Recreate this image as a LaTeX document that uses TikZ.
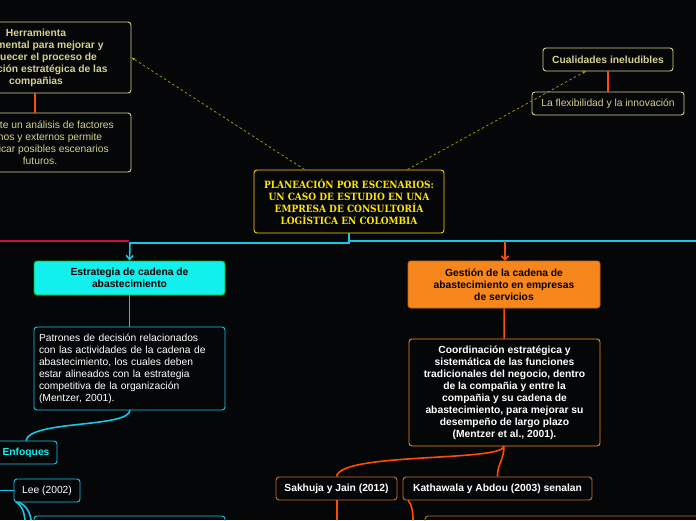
\documentclass[tikz,border=0pt]{standalone}
\usepackage{fontspec}
\setmainfont{Liberation Sans}
\newfontfamily\slab{DejaVu Serif Condensed}
\usetikzlibrary{arrows.meta}
\definecolor{bg}{HTML}{050608}
\definecolor{khaki}{HTML}{D6D18E}
\definecolor{cy}{HTML}{14C8E6}
\definecolor{cyf}{HTML}{12F0EE}
\definecolor{org}{HTML}{F7861C}
\definecolor{redo}{HTML}{FF4D00}
\definecolor{brn}{HTML}{C8741E}
\definecolor{ttl}{HTML}{FFE600}
\begin{document}
\begin{tikzpicture}[x=1pt,y=-1pt,
 box/.style={draw,rounded corners=3pt,line width=0.9pt,inner sep=2pt,font=\fontsize{10.3}{12}\selectfont,align=center},
 kbox/.style={box,draw=khaki,text=khaki},
 cbox/.style={box,draw=cy,text=white},
 obox/.style={box,draw=brn,text=white,font=\fontsize{10.3}{12}\selectfont\bfseries},
 dsh/.style={draw=ttl!70!black,dashed,dash pattern=on 2.5pt off 2.5pt,line width=0.7pt,-{Stealth[length=4pt]}},
 cl/.style={draw=cy,line width=1.6pt},
 ol/.style={draw=redo,line width=1.6pt}]
\fill[bg] (0,0) rectangle (696,520);
\useasboundingbox (0,0) rectangle (696,520);
% left top
\node[kbox,minimum width=190pt,minimum height=71pt,font=\fontsize{10.3}{12}\selectfont\bfseries] (herr) at (36,57.5) {Herramienta\\fundamental para mejorar y\\enriquecer el proceso de\\planeación estratégica de las\\compañias};
\node[kbox,minimum width=182pt,minimum height=59pt] (anal) at (40,142.5) {Mediante un análisis de factores\\internos y externos permite\\identificar posibles escenarios\\futuros.};
\draw[ol,line width=1.3pt] (35,93) -- (35,113);
% right top
\node[kbox,minimum width=130pt,minimum height=23pt,font=\fontsize{10.3}{12}\selectfont\bfseries] (cual) at (608,59.5) {Cualidades ineludibles};
\node[kbox,minimum width=152pt,minimum height=23pt] (flex) at (608,103.5) {La flexibilidad y la innovación};
\draw[ol,line width=1.3pt] (cual) -- (flex);
% title
\node[box,draw=ttl!80!orange,text=ttl,minimum width=190pt,minimum height=63pt,font=\slab\bfseries\fontsize{10}{12}\selectfont] (title) at (349,201.5) {PLANEACIÓN POR ESCENARIOS:\\UN CASO DE ESTUDIO EN UNA\\EMPRESA DE CONSULTORÍA\\LOGÍSTICA EN COLOMBIA};
\draw[dsh] (title.north west)++(51,0) -- (herr.east);
\draw[dsh] (title.north east)++(-37,0) -- (586,71);
% bus lines
\draw[draw={rgb,255:red,200;green,20;blue,60},line width=1.6pt] (0,241) -- (129,241);
\draw[cl] (129,243) -- (349,243) -- (title.south);
\draw[cl] (349,241) -- (696,241);
\node[box,fill=cyf,draw=green!70!black,text=black,minimum width=191pt,minimum height=34pt,font=\fontsize{10.3}{12}\selectfont\bfseries] (estr) at (129.5,278) {Estrategia de cadena de\\abastecimiento};
\node[box,fill=org,draw=org!80!black,text=black,minimum width=192pt,minimum height=47pt,font=\fontsize{10.3}{12}\selectfont\bfseries] (gest) at (504,284.5) {Gestión de la cadena de\\abastecimiento en empresas\\de servicios};
\draw[cl,-{Straight Barb[length=4pt,width=7pt]}] (130,243) -- (estr.north);
\draw[ol,-{Straight Barb[length=4pt,width=7pt]}] (505,241) -- (505,261);
% left branch
\node[cbox,align=left,minimum width=191pt,minimum height=83pt,text width=181pt] (patr) at (129.5,368.5) {Patrones de decisión relacionados\\con las actividades de la cadena de\\abastecimiento, los cuales deben\\estar alineados con la estrategia\\competitiva de la organización\\(Mentzer, 2001).};
\draw[cl] (estr.south) -- (patr.north);
\node[cbox,text=cyf,font=\fontsize{10.3}{12}\selectfont\bfseries,minimum width=62pt,minimum height=23pt] (enf) at (26,452.5) {Enfoques};
\draw[cl] (130,410) .. controls (130,428) and (30,420) .. (enf.north);
\node[cbox,minimum width=66pt,minimum height=23pt] (lee) at (47,490.5) {Lee (2002)};
\draw[cl] (0,490.5) -- (lee.west);
\draw[cl] (16,502) .. controls (22,505) and (24,512) .. (25,520);
\draw[cl] (18,502) .. controls (26,505) and (30,512) .. (31,520);
\node[cbox,minimum width=191pt,minimum height=20pt] (lb) at (129.5,526) {};
% right branch
\node[obox,draw=org,minimum width=191pt,minimum height=107pt] (coor) at (504.5,392.5) {Coordinación estratégica y\\sistemática de las funciones\\tradicionales del negocio, dentro\\de la compañia y entre la\\compañia y su cadena de\\abastecimiento, para mejorar su\\desempeño de largo plazo\\(Mentzer et al., 2001).};
\draw[ol] (gest) -- (coor);
\node[obox,minimum width=121pt,minimum height=23pt] (sak) at (336.5,488.5) {Sakhuja y Jain (2012)};
\node[obox,minimum width=189pt,minimum height=23pt] (kat) at (497.5,488.5) {Kathawala y Abdou (2003) senalan};
\draw[ol] (504,446) .. controls (504,462) and (340,452) .. (sak.north);
\draw[ol] (504,446) .. controls (504,460) and (497,465) .. (kat.north);
\draw[ol] (337,500) -- (337,520);
\draw[ol] (408,500) .. controls (412,505) and (413,512) .. (413,520);
\node[box,draw=brn,minimum width=280pt,minimum height=20pt] (kb) at (565,526) {};
\end{tikzpicture}
\end{document}
